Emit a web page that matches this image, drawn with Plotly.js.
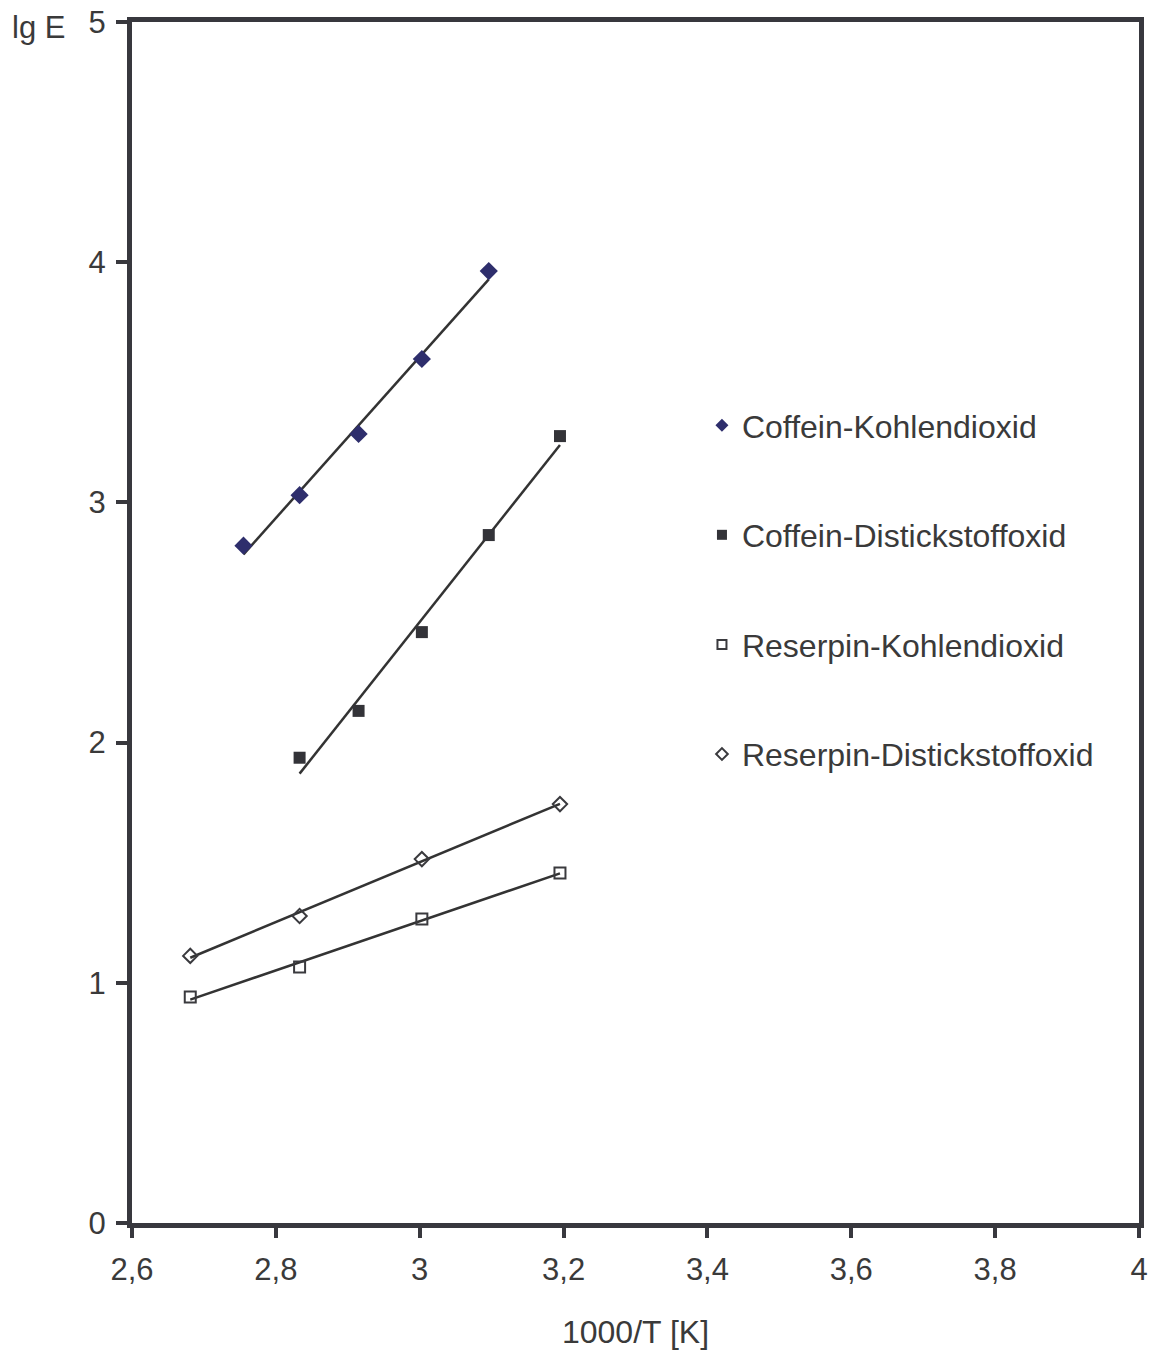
<!DOCTYPE html>
<html>
<head>
<meta charset="utf-8">
<script src="https://cdn.plot.ly/plotly-3.0.1.min.js"></script>
<style>
  html, body { margin: 0; padding: 0; background: #ffffff; }
  #chart { width: 1154px; height: 1350px; }
</style>
</head>
<body>
<div id="chart"></div>
<script>
// 1000/T values (K^-1 * 1000) and lg E for each substance / solvent pair
const xCoffeinCO2 = [2.755, 2.833, 2.915, 3.003, 3.096];
const yCoffeinCO2 = [2.82, 3.03, 3.285, 3.597, 3.963];

const xCoffeinN2O = [2.833, 2.915, 3.003, 3.096, 3.195];
const yCoffeinN2O = [1.937, 2.132, 2.46, 2.864, 3.276];

const xReserpinCO2 = [2.681, 2.833, 3.003, 3.195];
const yReserpinCO2 = [0.941, 1.066, 1.266, 1.457];

const xReserpinN2O = [2.681, 2.833, 3.003, 3.195];
const yReserpinN2O = [1.112, 1.278, 1.515, 1.744];

const seriesNames = [
  "Coffein-Kohlendioxid",
  "Coffein-Distickstoffoxid",
  "Reserpin-Kohlendioxid",
  "Reserpin-Distickstoffoxid"
];

const xTicks = [2.6, 2.8, 3.0, 3.2, 3.4, 3.6, 3.8, 4.0];
const yTicks = [0, 1, 2, 3, 4, 5];

const ink = "#38383e";
const textColor = "#3a3a3a";
const font = "Liberation Sans, Arial, sans-serif";

// least-squares straight line through a series, spanning its x range
function fitLine(xs, ys) {
  const n = xs.length;
  const mx = xs.reduce((a, b) => a + b, 0) / n;
  const my = ys.reduce((a, b) => a + b, 0) / n;
  let sxy = 0, sxx = 0;
  for (let i = 0; i < n; i++) {
    sxy += (xs[i] - mx) * (ys[i] - my);
    sxx += (xs[i] - mx) * (xs[i] - mx);
  }
  const k = sxy / sxx;
  const x0 = Math.min(...xs), x1 = Math.max(...xs);
  return { x: [x0, x1], y: [my + k * (x0 - mx), my + k * (x1 - mx)] };
}

const series = [
  { x: xCoffeinCO2, y: yCoffeinCO2, symbol: "diamond", size: 14, color: "#2e2e6c", line: 0, legSize: 10 },
  { x: xCoffeinN2O, y: yCoffeinN2O, symbol: "square", size: 12, color: "#333338", line: 0, legSize: 10 },
  { x: xReserpinCO2, y: yReserpinCO2, symbol: "square-open", size: 11, color: "#3a3a3e", line: 2, legSize: 9 },
  { x: xReserpinN2O, y: yReserpinN2O, symbol: "diamond-open", size: 11, color: "#3a3a3e", line: 2, legSize: 9 }
];

const traces = [];

// regression lines (drawn first, under the markers)
series.forEach(s => {
  const f = fitLine(s.x, s.y);
  traces.push({
    x: f.x, y: f.y, type: "scatter", mode: "lines",
    line: { color: "#333333", width: 2.5 },
    showlegend: false, hoverinfo: "skip"
  });
});

// measured points
series.forEach((s, i) => {
  traces.push({
    x: s.x, y: s.y, type: "scatter", mode: "markers", name: seriesNames[i],
    marker: { symbol: s.symbol, size: s.size, color: s.color,
              line: { color: s.color, width: s.line } },
    showlegend: false
  });
});

// legend entries
series.forEach((s, i) => {
  traces.push({
    x: [null], y: [null], type: "scatter", mode: "markers", name: seriesNames[i],
    legendgroup: "g" + i,
    marker: { symbol: s.symbol, size: s.legSize, color: s.color,
              line: { color: s.color, width: s.line } },
    showlegend: true
  });
});

const layout = {
  width: 1154, height: 1350,
  margin: { l: 132, r: 15, t: 22, b: 127 },
  paper_bgcolor: "#ffffff", plot_bgcolor: "#ffffff",
  font: { family: font, size: 31, color: textColor },
  separators: ",.",
  showlegend: true,
  legend: {
    x: 0.566, y: 0.687, xanchor: "left", yanchor: "top",
    font: { family: font, size: 32, color: textColor },
    tracegroupgap: 65, bgcolor: "rgba(0,0,0,0)", traceorder: "grouped"
  },
  xaxis: {
    range: [2.6, 4.0], tickvals: xTicks, ticks: "outside", ticklen: 10, tickwidth: 4,
    tickcolor: ink, showline: true, linecolor: ink, linewidth: 5, mirror: true,
    showgrid: false, zeroline: false, ticklabelstandoff: 5,
    tickfont: { family: font, size: 31, color: textColor },
    title: { text: "1000/T [K]", font: { family: font, size: 32, color: textColor }, standoff: 36 }
  },
  yaxis: {
    range: [0, 5], tickvals: yTicks, ticks: "outside", ticklen: 11, tickwidth: 4,
    tickcolor: ink, showline: true, linecolor: ink, linewidth: 5, mirror: true,
    showgrid: false, zeroline: false, ticklabelstandoff: 4,
    tickfont: { family: font, size: 31, color: textColor }
  },
  annotations: [{
    text: "lg E", xref: "paper", yref: "paper",
    x: -0.121, y: 0.9958, xanchor: "left", yanchor: "middle",
    showarrow: false, font: { family: font, size: 31, color: textColor }
  }]
};

Plotly.newPlot("chart", traces, layout, { displayModeBar: false, staticPlot: true });
</script>
</body>
</html>
